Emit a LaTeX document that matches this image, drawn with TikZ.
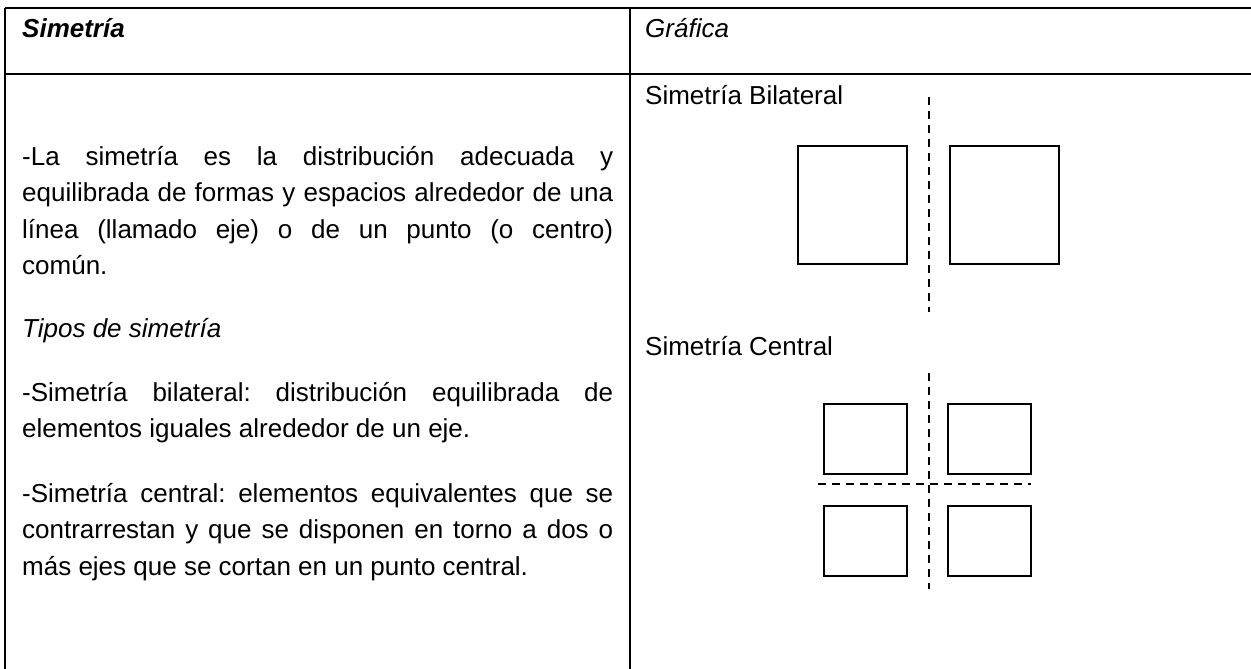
\documentclass[tikz,border=0pt]{standalone}
\usepackage{fontspec}
\setmainfont{Liberation Sans}
\frenchspacing
\begin{document}
\frenchspacing
\begin{tikzpicture}[x=1pt,y=-1pt,
  tbl/.style={line width=2pt},
  sq/.style={draw, line width=1.4pt, inner sep=0pt},
  axisline/.style={line width=1.6pt, dash pattern=on 8pt off 6pt},
  txt/.style={anchor=base west, inner sep=0pt, font=\fontsize{26}{31}\selectfont}]
\useasboundingbox (0,0) rectangle (1251,669);
% table frame
\coordinate (ttl) at (5,8);
\coordinate (ttr) at (1251,8);
\coordinate (htl) at (5,74);
\coordinate (htr) at (1251,74);
\coordinate (lb) at (5,669);
\coordinate (dvt) at (630,8);
\coordinate (dvb) at (630,669);
\draw[tbl] (ttl) -- (ttr);
\draw[tbl] (htl) -- (htr);
\draw[tbl] (ttl) -- (lb);
\draw[tbl] (dvt) -- (dvb);
% header
\node[txt, font=\fontsize{26}{31}\selectfont\bfseries\itshape] (hsim) at (22,38) {Simetría};
\node[txt, font=\fontsize{26}{31}\selectfont\itshape] (hgra) at (645,38) {Gráfica};
% left column text
\node[txt] (p1a) at (22,165) {\makebox[591pt][s]{-La simetría es la distribución adecuada y}};
\node[txt] (p1b) at (22,201.5) {\makebox[591pt][s]{equilibrada de formas y espacios alrededor de una}};
\node[txt] (p1c) at (22,238) {\makebox[591pt][s]{línea (llamado eje) o de un punto (o centro)}};
\node[txt] (p1d) at (22,274.5) {común.};
\node[txt, font=\fontsize{26}{31}\selectfont\itshape] (tipos) at (22,337) {Tipos de simetría};
\node[txt] (b1) at (22,401) {\makebox[591pt][s]{-Simetría bilateral: distribución equilibrada de}};
\node[txt] (b2) at (22,437.5) {elementos iguales alrededor de un eje.};
\node[txt] (c1) at (22,502) {\makebox[591pt][s]{-Simetría central: elementos equivalentes que se}};
\node[txt] (c2) at (22,538.5) {\makebox[591pt][s]{contrarrestan y que se disponen en torno a dos o}};
\node[txt] (c3) at (22,575) {más ejes que se cortan en un punto central.};
% right column: bilateral
\node[txt] (lbil) at (645,104) {Simetría Bilateral};
\node[sq, minimum width=109pt, minimum height=118pt] (bl) at (852.5,205) {};
\node[sq, minimum width=109pt, minimum height=118pt] (br) at (1004.5,205) {};
\coordinate (bat) at (929,97);
\coordinate (bab) at (929,312);
\draw[axisline] (bat) -- (bab);
% right column: central
\node[txt] (lcen) at (645,355) {Simetría Central};
\node[sq, minimum width=83pt, minimum height=70pt] (ctl) at (865.5,439) {};
\node[sq, minimum width=83pt, minimum height=70pt] (ctr) at (989.5,439) {};
\node[sq, minimum width=83pt, minimum height=70pt] (cbl) at (865.5,541) {};
\node[sq, minimum width=83pt, minimum height=70pt] (cbr) at (989.5,541) {};
\coordinate (cvt) at (929,373);
\coordinate (cvb) at (929,589);
\coordinate (chl) at (818,484);
\coordinate (chr) at (1031,484);
\draw[axisline] (cvt) -- (cvb);
\draw[axisline] (chl) -- (chr);
\end{tikzpicture}
\end{document}
